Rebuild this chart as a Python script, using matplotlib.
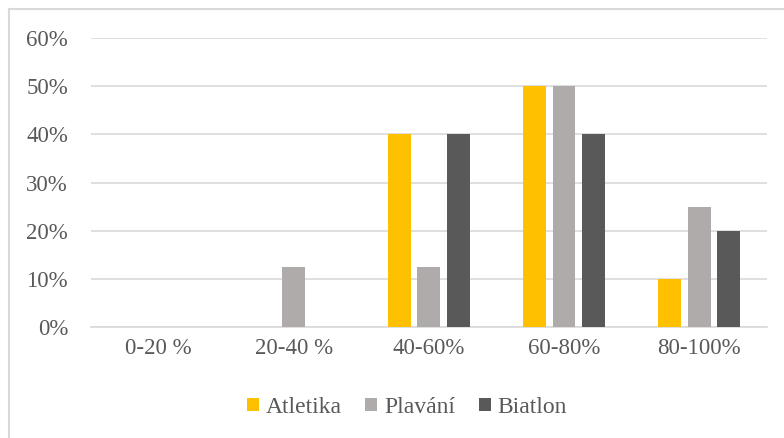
import matplotlib
matplotlib.use("Agg")
import matplotlib.pyplot as plt
import numpy as np
from matplotlib.lines import Line2D

categories = ["0-20 %", "20-40 %", "40-60%", "60-80%", "80-100%"]
series_names = ["Atletika", "Plavání", "Biatlon"]
atletika = [0, 0, 40, 50, 10]
plavani = [0, 12.5, 12.5, 50, 25]
biatlon = [0, 0, 40, 40, 20]
colors = ["#FFC000", "#AFABAB", "#595959"]
yticks = [0, 10, 20, 30, 40, 50, 60]

plt.rcParams['font.family'] = ['Liberation Serif', 'DejaVu Serif']

fig = plt.figure(figsize=(7.84, 4.38), dpi=100)
ax = fig.add_axes([0.116, 0.2534, 0.862, 0.6596])

x = np.arange(len(categories))
width = 0.17
offset = 0.22
for i, (vals, name, c) in enumerate(zip([atletika, plavani, biatlon], series_names, colors)):
    ax.bar(x + (i - 1) * offset, vals, width, color=c, label=name, zorder=3)

ax.set_xlim(-0.5, len(categories) - 0.5)
ax.set_ylim(0, 60)
ax.set_yticks(yticks)
ax.set_yticklabels([f"{t}%" for t in yticks])
ax.set_xticks(x)
ax.set_xticklabels(categories)
ax.tick_params(axis='both', length=0, labelsize=16.5, colors="#595959")
ax.tick_params(axis='x', pad=8)
ax.tick_params(axis='y', pad=16.5)
ax.grid(axis='y', color="#D9D9D9", linewidth=1.2, zorder=0)
for s in ["top", "right", "left"]:
    ax.spines[s].set_visible(False)
ax.spines["bottom"].set_color("#D9D9D9")
ax.spines["bottom"].set_linewidth(1.2)

leg = fig.legend(loc="center", bbox_to_anchor=(0.519, 0.07), ncol=3, frameon=False,
                 fontsize=17, handlelength=0.5, handleheight=0.5, handletextpad=0.3,
                 columnspacing=1.0)
for t in leg.get_texts():
    t.set_color("#595959")

# chart-area border (top and left only visible)
fig.add_artist(Line2D([8.5/784, 8.5/784], [0, 1 - 8.5/438], transform=fig.transFigure,
                      color="#D9D9D9", linewidth=1.5))
fig.add_artist(Line2D([8.5/784, 1], [1 - 8.5/438, 1 - 8.5/438], transform=fig.transFigure,
                      color="#D9D9D9", linewidth=1.5))

fig.savefig("out.png", dpi=100)
